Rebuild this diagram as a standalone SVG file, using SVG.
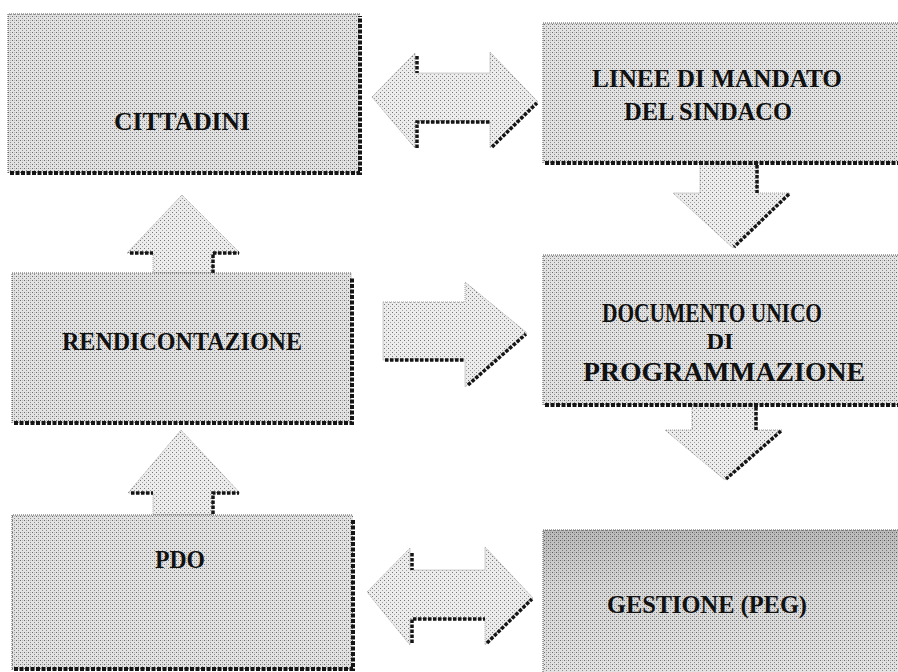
<svg xmlns="http://www.w3.org/2000/svg" width="898" height="672" viewBox="0 0 898 672">
<defs>
<pattern id="ht" width="4" height="4" patternUnits="userSpaceOnUse">
<rect width="4" height="4" fill="#e2e2e2"/>
<rect x="0" y="0" width="1" height="1" fill="#6a6a6a"/>
<rect x="2" y="2" width="1" height="1" fill="#8a8a8a"/>
<rect x="2" y="0" width="1" height="1" fill="#b8b8b8"/>
</pattern>
<pattern id="htl" width="4" height="4" patternUnits="userSpaceOnUse">
<rect width="4" height="4" fill="#ececec"/>
<rect x="0" y="0" width="1" height="1" fill="#777"/>
<rect x="2" y="2" width="1" height="1" fill="#a0a0a0"/>
</pattern>
<linearGradient id="gtop" x1="0" y1="0" x2="0" y2="1">
<stop offset="0" stop-color="#000" stop-opacity="0.18"/>
<stop offset="0.4" stop-color="#000" stop-opacity="0.05"/>
<stop offset="1" stop-color="#000" stop-opacity="0"/>
</linearGradient>
</defs>
<style>
.box{fill:url(#ht);stroke:none}
.edge{stroke:#555;stroke-width:1;stroke-dasharray:1 1;fill:none}
.shd{stroke:#151515;stroke-width:4;stroke-dasharray:4 1.5;fill:none}
.arr{fill:url(#htl);stroke:#8a8a8a;stroke-width:0.8;stroke-dasharray:1 1}
.ash{stroke:#151515;stroke-width:3.5;stroke-dasharray:3.5 1.5;fill:none}
.lbl{font-family:"Liberation Serif","Times New Roman",serif;font-weight:bold;font-size:26px;fill:#111;text-anchor:middle}
.big{font-size:28px}
.mid{font-size:24px}
</style>

<g id="connectors">
  <g id="arrow-cittadini-linee">
    <polygon class="arr" points="372,97 415,53 415,73 490,73 490,52 538,102 490,148 490,122 415,122 415,148"/>
    <polyline class="ash" points="417,56 417,73"/>
    <polyline class="ash" points="417,148 417,122 490,122"/>
    <polyline class="ash" points="492,147 537,103"/>
  </g>
  <g id="arrow-linee-documento">
    <polygon class="arr" points="700,163 758,163 758,193 790,193 733,248 673,193 700,193"/>
    <polyline class="ash" points="757,165 757,193"/>
    <polyline class="ash" points="789,194 734,247"/>
  </g>
  <g id="arrow-rendicontazione-documento">
    <polygon class="arr" points="383,302 465,302 465,282 527,333 465,387 465,360 383,360"/>
    <polyline class="ash" points="385,360 465,360"/>
    <polyline class="ash" points="468,385 526,334"/>
  </g>
  <g id="arrow-documento-gestione">
    <polygon class="arr" points="692,405 757,405 757,430 782,430 725,480 665,430 692,430"/>
    <polyline class="ash" points="756,407 756,430"/>
    <polyline class="ash" points="781,431 726,479"/>
  </g>
  <g id="arrow-rendicontazione-cittadini">
    <polygon class="arr" points="182,195 240,253 213,253 213,273 153,273 153,253 127,253"/>
    <polyline class="ash" points="130,253 153,253"/>
    <polyline class="ash" points="213,273 213,253 239,253"/>
  </g>
  <g id="arrow-pdo-rendicontazione">
    <polygon class="arr" points="181,430 240,493 213,493 213,515 153,515 153,493 128,493"/>
    <polyline class="ash" points="131,493 153,493"/>
    <polyline class="ash" points="213,514 213,493 239,493"/>
  </g>
  <g id="arrow-pdo-gestione">
    <polygon class="arr" points="367,592 410,548 410,570 485,570 485,547 533,598 485,645 485,619 410,619 410,645"/>
    <polyline class="ash" points="412,553 412,570"/>
    <polyline class="ash" points="412,643 412,619 485,619"/>
    <polyline class="ash" points="487,643 532,599"/>
  </g>
</g>

<g id="n-cittadini">
  <rect class="box" x="8" y="14" width="352" height="159"/>
  <polyline class="edge" points="8,173 8,14 360,14"/>
  <polyline class="shd" points="10,173 360,173 360,16"/>
  <text class="lbl" x="182" y="130" textLength="136" lengthAdjust="spacingAndGlyphs">CITTADINI</text>
</g>

<g id="n-linee">
  <rect class="box" x="543" y="23" width="355" height="140"/>
  <polyline class="edge" points="543,163 543,23 898,23"/>
  <polyline class="shd" points="545,163 898,163"/>
  <text class="lbl" x="717" y="87" textLength="250" lengthAdjust="spacingAndGlyphs">LINEE DI MANDATO</text>
  <text class="lbl" x="708" y="120" textLength="168" lengthAdjust="spacingAndGlyphs">DEL SINDACO</text>
</g>

<g id="n-rendicontazione">
  <rect class="box" x="12" y="273" width="340" height="150"/>
  <polyline class="edge" points="12,423 12,273 352,273"/>
  <polyline class="shd" points="14,423 352,423 352,277"/>
  <text class="lbl" x="182" y="350" textLength="240" lengthAdjust="spacingAndGlyphs">RENDICONTAZIONE</text>
</g>

<g id="n-documento">
  <rect class="box" x="543" y="255" width="355" height="150"/>
  <polyline class="edge" points="543,405 543,255 898,255"/>
  <polyline class="shd" points="545,405 898,405"/>
  <text class="lbl big" x="712" y="322" textLength="220" lengthAdjust="spacingAndGlyphs">DOCUMENTO UNICO</text>
  <text class="lbl mid" x="720" y="349" textLength="27" lengthAdjust="spacingAndGlyphs">DI</text>
  <text class="lbl big" x="724" y="381" textLength="282" lengthAdjust="spacingAndGlyphs">PROGRAMMAZIONE</text>
</g>

<g id="n-pdo">
  <rect class="box" x="12" y="515" width="341" height="155"/>
  <polyline class="edge" points="12,670 12,515 353,515"/>
  <polyline class="shd" points="14,669 353,669 353,519"/>
  <text class="lbl" x="180" y="568" textLength="50" lengthAdjust="spacingAndGlyphs">PDO</text>
</g>

<g id="n-gestione">
  <rect class="box" x="543" y="530" width="355" height="142"/>
  <rect x="543" y="530" width="355" height="142" fill="url(#gtop)"/>
  <polyline class="edge" points="543,672 543,530 898,530"/>
  <text class="lbl" x="707" y="613" textLength="200" lengthAdjust="spacingAndGlyphs">GESTIONE (PEG)</text>
</g>
</svg>
